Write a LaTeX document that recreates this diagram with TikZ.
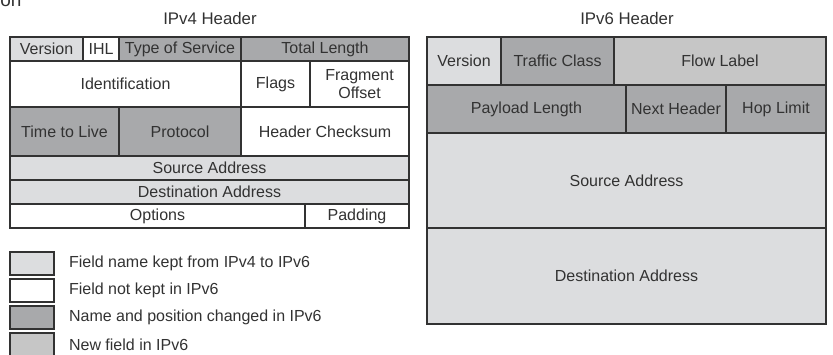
\documentclass[tikz,border=0pt]{standalone}
\usepackage{fontspec}
\setmainfont{Liberation Sans}
\usetikzlibrary{calc}

\definecolor{keptgray}{RGB}{220,221,223}
\definecolor{movedgray}{RGB}{168,169,171}
\definecolor{newgray}{RGB}{198,198,198}
\definecolor{linegray}{RGB}{50,50,50}
\definecolor{textgray}{RGB}{50,50,50}

\begin{document}
\begin{tikzpicture}[x=0.5pt, y=-0.5pt, text=textgray,
  font=\fontsize{8}{9.2}\selectfont,
  field/.style={draw=linegray, line width=0.7pt},
  keptfield/.style={field, fill=keptgray},
  dropfield/.style={field, fill=white},
  movedfield/.style={field, fill=movedgray},
  newfield/.style={field, fill=newgray}]

\useasboundingbox (0,0) rectangle (833,354);

% Cut-off caption at the top
\node[anchor=base west, inner sep=0pt, font=\fontsize{9.5}{11}\selectfont] (cutoff) at (0,6) {on};

% IPv4 header
\node[font=\fontsize{8.4}{10}\selectfont] (v4title) at (210,18) {IPv4 Header};
\draw[keptfield] (10,37) rectangle node (v4ver) {Version} (83,61);
\draw[dropfield] (83,37) rectangle node (v4ihl) {IHL} (119,61);
\draw[movedfield] (119,37) rectangle node (v4tos) {Type of Service} (241,61);
\draw[movedfield] (241,37) rectangle node (v4len) {Total Length} (409,61);
\draw[dropfield] (10,61) rectangle node (v4id) {Identification} (241,107);
\draw[dropfield] (241,61) rectangle node (v4flags) {Flags} (310,107);
\draw[dropfield] (310,61) rectangle node[align=center] (v4frag) {Fragment\\Offset} (409,107);
\draw[movedfield] (10,107) rectangle node (v4ttl) {Time to Live} (119,156);
\draw[movedfield] (119,107) rectangle node (v4proto) {Protocol} (241,156);
\draw[dropfield] (241,107) rectangle node (v4sum) {Header Checksum} (409,156);
\draw[keptfield] (10,156) rectangle node (v4src) {Source Address} (409,180);
\draw[keptfield] (10,180) rectangle node (v4dst) {Destination Address} (409,204);
\draw[dropfield] (10,204) rectangle node (v4opt) {Options} (305,228);
\draw[dropfield] (305,204) rectangle node (v4pad) {Padding} (409,228);

% IPv6 header
\node[font=\fontsize{8.4}{10}\selectfont] (v6title) at (627,18) {IPv6 Header};
\draw[keptfield] (427,37) rectangle node (v6ver) {Version} (501,85);
\draw[movedfield] (501,37) rectangle node (v6tc) {Traffic Class} (614,85);
\draw[newfield] (614,37) rectangle node (v6flow) {Flow Label} (826,85);
\draw[movedfield] (427,85) rectangle node (v6len) {Payload Length} (626,133);
\draw[movedfield] (626,85) rectangle node (v6next) {Next Header} (726,133);
\draw[movedfield] (726,85) rectangle node (v6hop) {Hop Limit} (826,133);
\draw[keptfield] (427,133) rectangle node (v6src) {Source Address} (826,228);
\draw[keptfield] (427,228) rectangle node (v6dst) {Destination Address} (826,324);

% Legend
\draw[keptfield, line width=1pt] (10,252) rectangle (54,275);
\node[anchor=west] (keptlbl) at (62,263.5) {Field name kept from IPv4 to IPv6};
\draw[dropfield, line width=1pt] (10,279) rectangle (54,302);
\node[anchor=west] (droplbl) at (62,290.5) {Field not kept in IPv6};
\draw[movedfield, line width=1pt] (10,306) rectangle (54,329);
\node[anchor=west] (movedlbl) at (62,317.5) {Name and position changed in IPv6};
\draw[newfield, line width=1pt] (10,333) rectangle (54,356);
\node[anchor=west] (newlbl) at (62,344.5) {New field in IPv6};
\end{tikzpicture}
\end{document}
